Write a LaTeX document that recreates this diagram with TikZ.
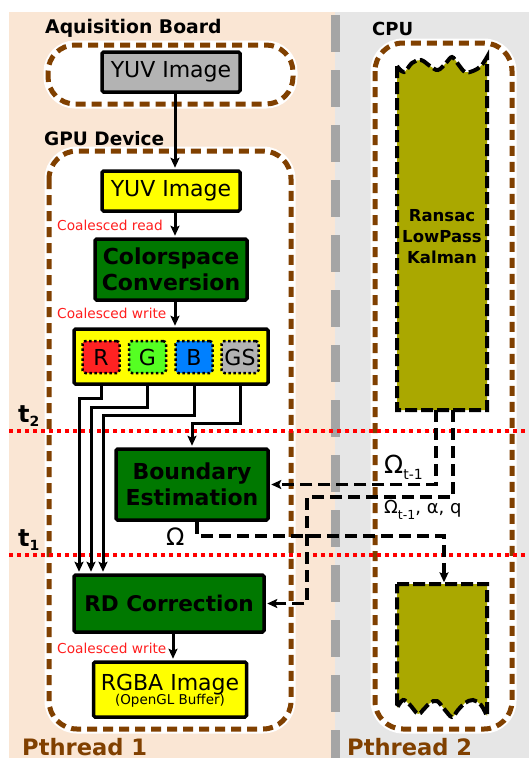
\documentclass[tikz,border=0pt]{standalone}
\usepackage{fontspec}
\setmainfont{DejaVu Sans}
\usetikzlibrary{arrows.meta}
\definecolor{peach}{RGB}{250,230,212}
\definecolor{bggray}{RGB}{230,230,230}
\definecolor{sepgray}{RGB}{165,165,165}
\definecolor{brownc}{RGB}{128,64,0}
\definecolor{dgreen}{RGB}{0,120,0}
\definecolor{olivec}{RGB}{170,168,0}
\definecolor{rr}{RGB}{255,34,34}
\definecolor{gg}{RGB}{85,255,34}
\definecolor{bb}{RGB}{0,128,255}
\definecolor{gsc}{RGB}{179,179,179}
\definecolor{yel}{RGB}{255,255,0}
\definecolor{redtxt}{RGB}{255,30,30}
\newcommand\myfs[1]{\fontsize{#1}{#1}\selectfont}
\begin{document}
\begin{tikzpicture}[x=1pt,y=-1pt,
  box/.style={draw=black, line width=3.5pt, inner sep=0pt, rounded corners=1.5pt},
  gbox/.style={box, fill=dgreen, align=center, font=\bfseries\fontsize{22}{26.5}\selectfont},
  subbox/.style={draw=black, line width=2.5pt, dash pattern=on 2.5pt off 2.5pt, rounded corners=3pt,
    minimum width=37, minimum height=32, inner sep=0pt, font=\myfs{22}},
  contwhite/.style={draw=white, fill=white, line width=9pt},
  contbrown/.style={draw=brownc, line width=5pt, dash pattern=on 10pt off 6pt},
  redline/.style={draw=red, line width=4pt, dash pattern=on 4pt off 4pt},
  arr/.style={line width=3pt, -{Stealth[length=10pt,width=9pt,inset=2pt]}, shorten >=1.5pt},
  darr/.style={line width=3.5pt, dash pattern=on 12pt off 6pt, -{Stealth[length=10pt,width=9pt,inset=2pt]}, shorten >=1.5pt},
  lbl/.style={anchor=base west, inner sep=0pt},
  note/.style={lbl, text=redtxt, font=\myfs{13.7}},
  olivebox/.style={fill=olivec, draw=black, line width=4pt, dash pattern=on 12pt off 4pt}
]
\useasboundingbox (0,0) rectangle (529,758);
% backgrounds
\fill[peach] (9,12) rectangle (335,758);
\fill[bggray] (335,12) rectangle (529,758);
\draw[sepgray, line width=9pt, dash pattern=on 37pt off 18pt] (335,15) -- (335,758);

% containers
\draw[contwhite, rounded corners=27pt] (48,45) rectangle (293,104);
\draw[contbrown, rounded corners=27pt] (48,45) rectangle (293,104);
\draw[contwhite, rounded corners=28pt] (49,151) rectangle (291,729);
\draw[contbrown, rounded corners=28pt] (49,151) rectangle (291,729);
\draw[contwhite, rounded corners=28pt] (375,43) rectangle (512,729);
\draw[contbrown, rounded corners=28pt] (375,43) rectangle (512,729);

% container labels
\node[lbl, font=\bfseries\myfs{18.8}] (aqlbl) at (45,33) {Aquisition Board};
\node[lbl, font=\bfseries\myfs{18.5}] (gpulbl) at (44,145) {GPU Device};
\node[lbl, font=\bfseries\myfs{18}] (cpulbl) at (372,35) {CPU};
\node[lbl, font=\bfseries\myfs{22.6}, text=brownc] (p1lbl) at (22,755) {Pthread 1};
\node[lbl, font=\bfseries\myfs{22.6}, text=brownc] (p2lbl) at (347,755) {Pthread 2};

% time lines
\draw[redline] (9,431) -- (529,431);
\draw[redline] (9,555) -- (529,555);
\node[lbl, font=\bfseries\myfs{24}] (t2) at (18,422) {t\raisebox{-4pt}{\myfs{14}2}};
\node[lbl, font=\bfseries\myfs{24}] (t1) at (18,546) {t\raisebox{-4pt}{\myfs{14}1}};

% CPU olive boxes
\node[minimum width=90, minimum height=352, inner sep=0pt] (cpuA) at (442,234) {};
\node[minimum width=90, minimum height=133, inner sep=0pt] (cpuB) at (442,650.5) {};
\path[olivebox] (397,66) -- (397,410) -- (487,410) -- (487,57)
  -- plot[smooth, tension=0.6] coordinates {(487,57) (481,66) (473,71) (465,72) (458,64) (452,57) (446,63) (438,70) (430,66) (421,60) (412,63) (404,72) (397,66)} -- cycle;
\path[olivebox] (397,584) -- (487,584) -- (487,716)
  -- plot[smooth, tension=0.6] coordinates {(487,716) (481,705) (473,700) (465,703) (458,710) (452,717) (445,710) (437,701) (430,703) (423,710) (418,714) (410,705) (403,700) (397,708)} -- cycle;
\node[align=center, font=\bfseries\fontsize{16.5}{21}\selectfont, inner sep=0pt] (ransac) at (442,237) {Ransac\\LowPass\\Kalman};

% GPU boxes
\node[box, fill=gsc, minimum width=138, minimum height=40, font=\myfs{22}] (yuvA) at (171,72) {YUV Image};
\node[box, fill=yel, minimum width=138, minimum height=40, font=\myfs{22}] (yuvB) at (171,191) {YUV Image};
\node[gbox, minimum width=152, minimum height=61] (csc) at (171,269.5) {Colorspace\\Conversion};
\node[box, fill=yel, minimum width=194, minimum height=55] (rgb) at (171,356.5) {};
\node[subbox, fill=rr] (R) at (101,357) {R};
\node[subbox, fill=gg] (G) at (147.5,357) {G};
\node[subbox, fill=bb] (B) at (194,357) {B};
\node[subbox, fill=gsc] (GS) at (240,357) {GS};
\node[gbox, minimum width=152, minimum height=71] (be) at (192,484.5) {Boundary\\Estimation};
\node[gbox, minimum width=190, minimum height=57, font=\bfseries\myfs{21.6}] (rd) at (169,603.5) {RD Correction};
\node[box, fill=yel, minimum width=153, minimum height=55] (rgba) at (170,689.5) {};
\node[anchor=base, inner sep=0pt, font=\myfs{22}] (rgbaA) at (170,690) {RGBA Image};
\node[anchor=base, inner sep=0pt, font=\myfs{13.5}] (rgbaB) at (170,704) {(OpenGL Buffer)};

% red notes
\node[note] (n1) at (57,230) {Coalesced read};
\node[note] (n2) at (57,318) {Coalesced write};
\node[note] (n3) at (57,653) {Coalesced write};

% x positions
\coordinate (ax) at (175,0);
\coordinate (bx) at (173,0);
\coordinate (xR) at (79,0);
\coordinate (xG) at (91,0);
\coordinate (xB) at (103,0);
\coordinate (xGS) at (192,0);
\coordinate (xo) at (197,0);
\coordinate (xm) at (444,0);
\coordinate (xa) at (436,0);
\coordinate (xb) at (453,0);
\coordinate (xc) at (307,0);

% solid connectors
\draw[arr] (yuvA.south -| ax) -- (yuvB.north -| ax);
\draw[arr] (yuvB.south -| ax) -- (csc.north -| ax);
\draw[arr] (csc.south -| ax) -- (rgb.north -| ax);
\draw[arr] (rd.south -| bx) -- (rgba.north -| bx);
\draw[arr] (rgb.south -| R) -- ++(0,13) -| (rd.north -| xR);
\draw[arr] (rgb.south -| G) -- ++(0,22) -| (rd.north -| xG);
\draw[arr] (rgb.south -| B) -- ++(0,30) -| (rd.north -| xB);
\draw[arr] (rgb.south -| GS) -- ++(0,38) -| (be.north -| xGS);

% dashed connectors
\draw[darr] (be.south -| xo) -- ++(0,14) -| (cpuB.north -| xm);
\draw[darr] (cpuA.south -| xa) |- (be.east);
\draw[darr] (cpuA.south -| xb) -- ++(0,87) -| (xc |- rd.east) -- (rd.east);

% connector labels
\node[lbl, font=\myfs{24}] (om) at (166,545) {Ω};
\node[lbl, font=\myfs{25}] (om1) at (384,473) {Ω\raisebox{-6pt}{\myfs{14}t-1}};
\node[lbl, font=\myfs{18}] (om2) at (384,513) {Ω\raisebox{-6pt}{\myfs{12.5}t-1}, α, q};
\end{tikzpicture}
\end{document}
